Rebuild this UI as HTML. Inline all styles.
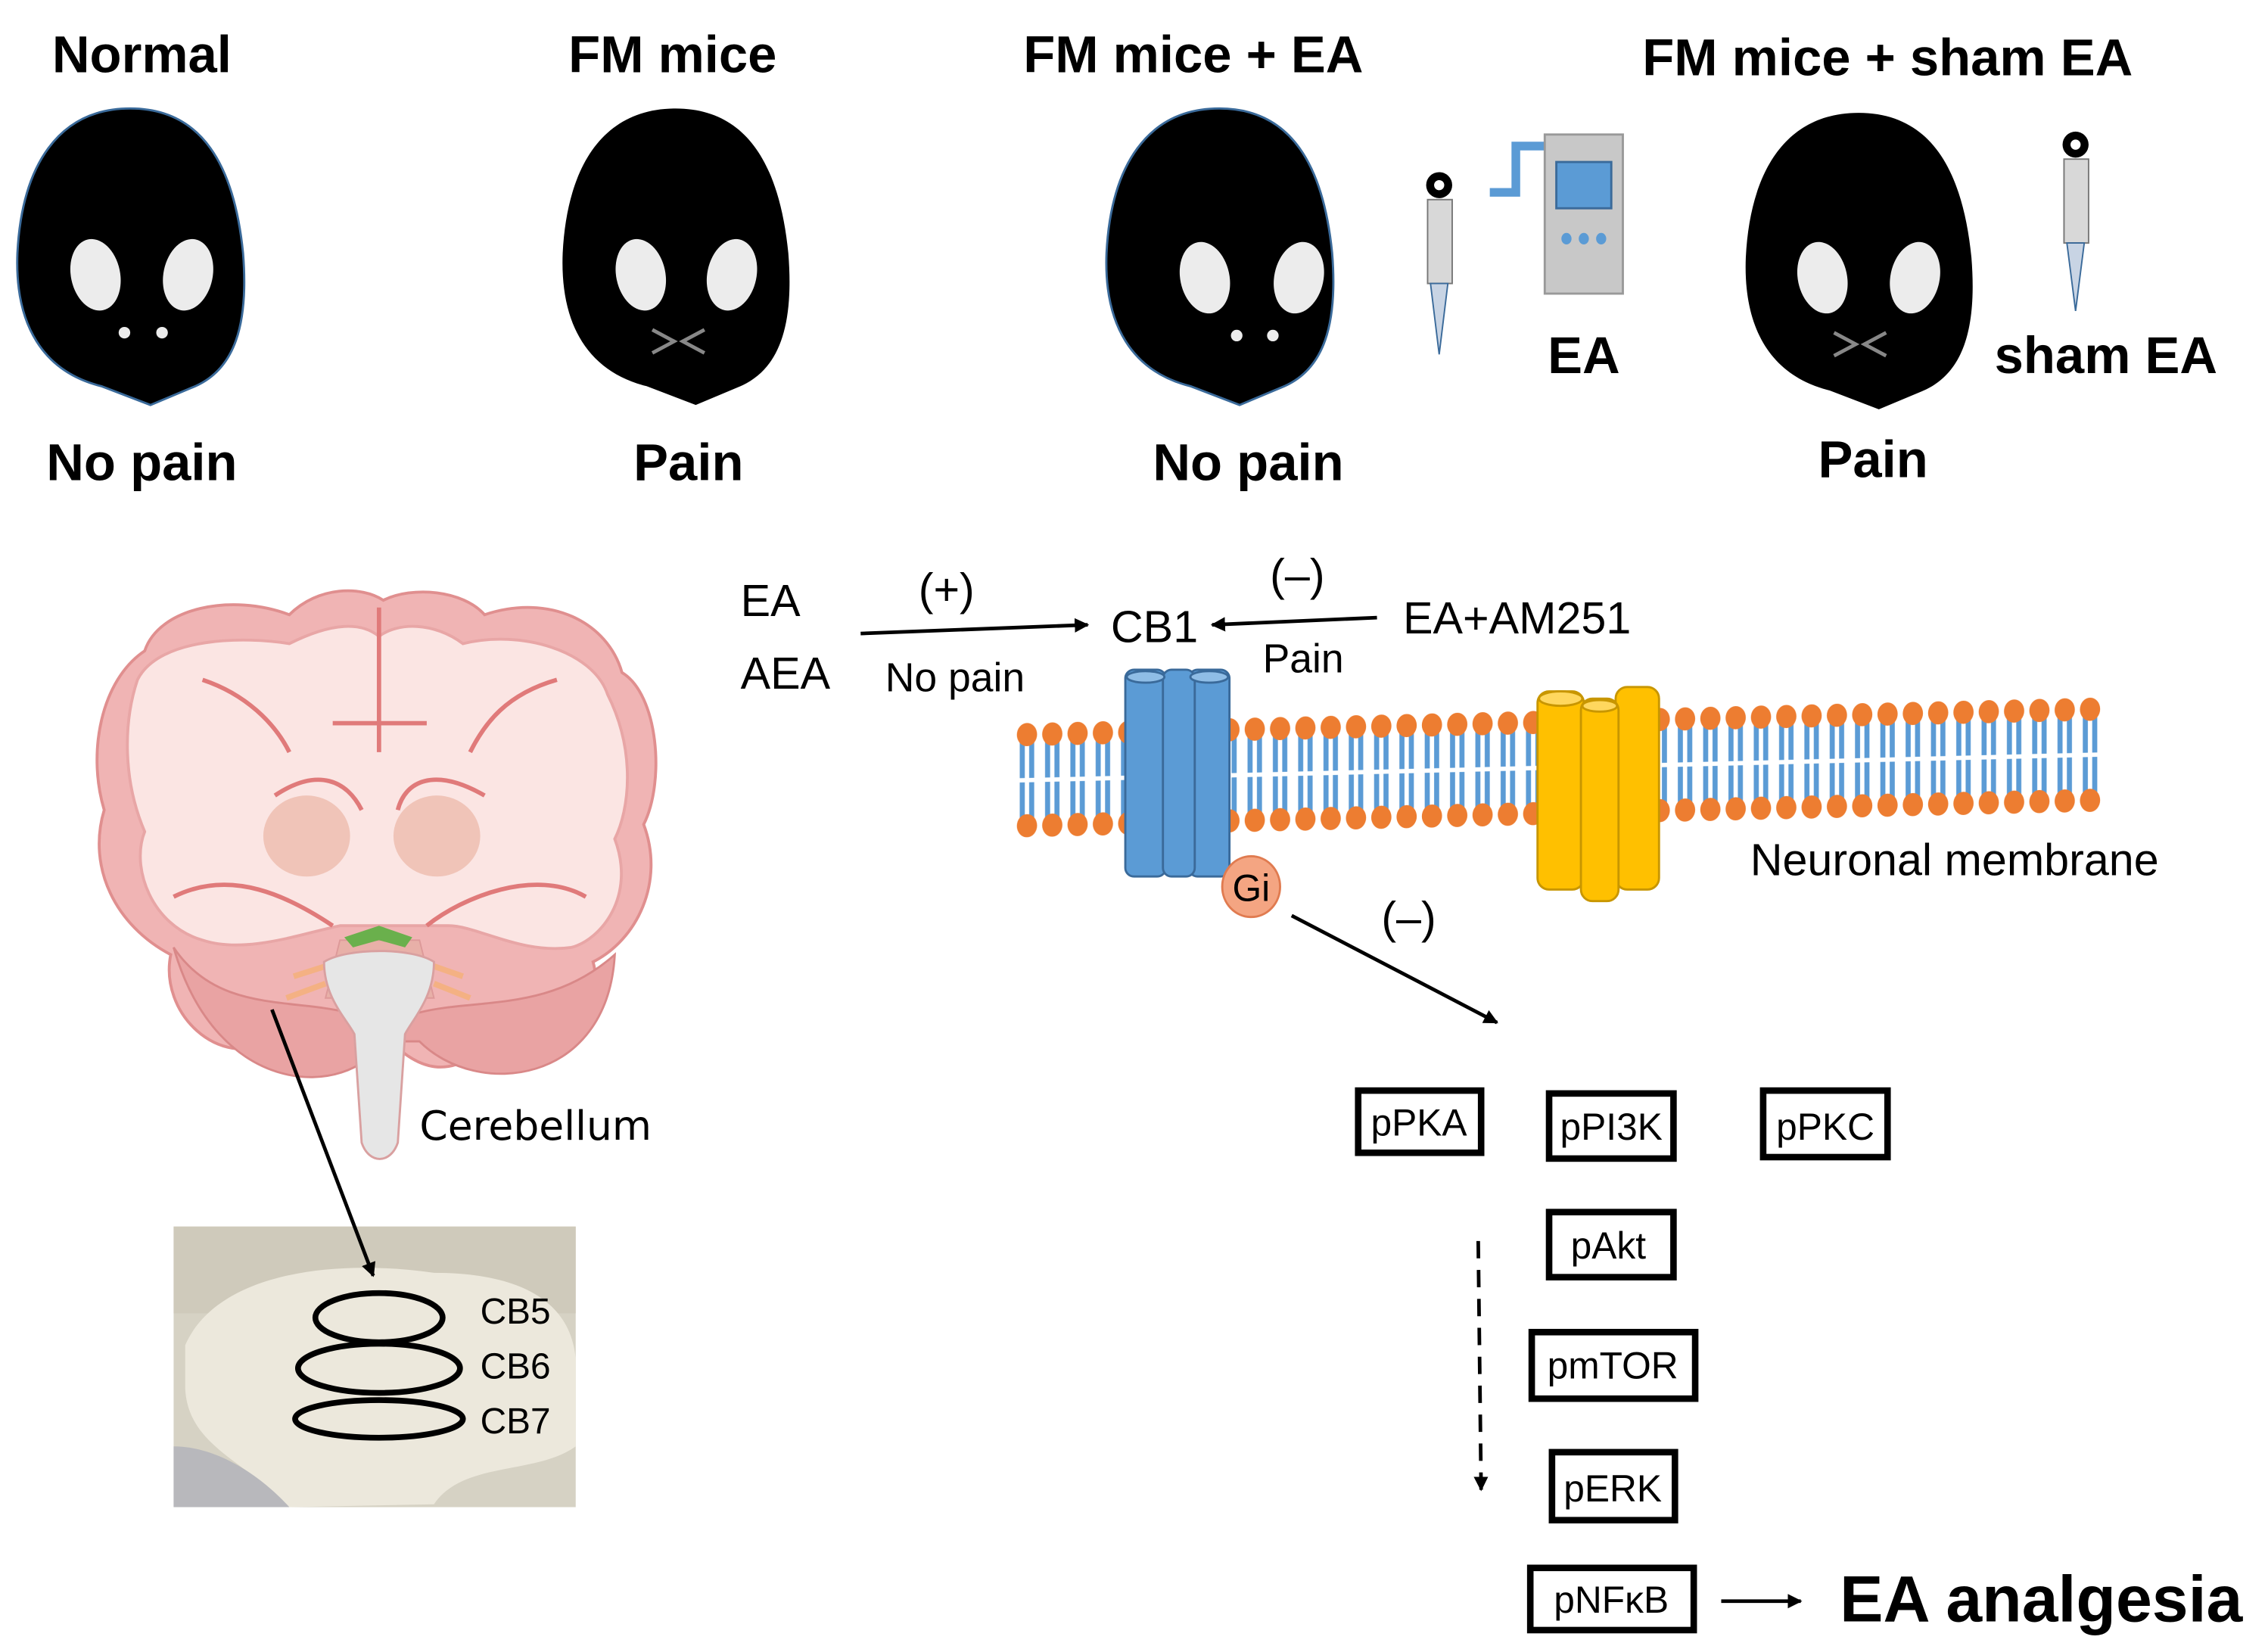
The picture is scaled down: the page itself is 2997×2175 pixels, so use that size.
<!DOCTYPE html>
<html><head><meta charset="utf-8"><style>
html,body{margin:0;padding:0;background:#fff}
svg{display:block}
text{font-family:"Liberation Sans",sans-serif}
</style></head><body>
<svg width="2997" height="2175" viewBox="0 0 1568 1138" xmlns="http://www.w3.org/2000/svg">
<defs>
<marker id="ah" markerWidth="10" markerHeight="10" refX="9" refY="5" orient="auto" markerUnits="userSpaceOnUse"><path d="M0,0 L10,5 L0,10Z" fill="#000"/></marker>
<path id="head" d="M0,0 C50,0 72,40 78,100 C82,150 72,180 45,192 L14,205 L-20,192 C-60,182 -80,150 -78,100 C-75,40 -50,0 0,0Z"/>
<pattern id="ph" patternUnits="userSpaceOnUse" x="701.25" y="500" width="17.5" height="16"><ellipse cx="8.75" cy="8" rx="7" ry="8" fill="#ed7d31"/></pattern>
<pattern id="pb" patternUnits="userSpaceOnUse" x="701.25" y="563" width="17.5" height="16"><ellipse cx="8.75" cy="8" rx="7" ry="8" fill="#ed7d31"/></pattern>
<pattern id="pt" patternUnits="userSpaceOnUse" x="701.25" y="508" width="17.5" height="63"><path d="M5.5,4 L5.5,30 M12,4 L12,30 M5.5,33 L5.5,59 M12,33 L12,59" stroke="#5b9bd5" stroke-width="3.5" fill="none"/></pattern>
</defs>
<g font-weight="bold" font-size="36" text-anchor="middle">
<text x="98" y="50">Normal</text>
<text x="465" y="50">FM mice</text>
<text x="825" y="50">FM mice + EA</text>
<text x="1305" y="52">FM mice + sham EA</text>
<text x="98" y="332">No pain</text>
<text x="476" y="332">Pain</text>
<text x="863" y="332">No pain</text>
<text x="1295" y="330">Pain</text>
<text x="1095" y="258">EA</text>
<text x="1456" y="258">sham EA</text>
</g>
<g>
<use href="#head" x="90" y="75" fill="#000" stroke="#3a6a9a" stroke-width="1.5"/>
<use href="#head" x="467" y="75" fill="#000"/>
<use href="#head" x="843" y="75" fill="#000" stroke="#3a6a9a" stroke-width="1.5"/>
<use href="#head" x="1285" y="78" fill="#000"/>
</g>
<g fill="#ececec">
<ellipse cx="66" cy="190" rx="17" ry="25" transform="rotate(-12 66 190)"/><ellipse cx="130" cy="190" rx="17" ry="25" transform="rotate(12 130 190)"/>
<ellipse cx="443" cy="190" rx="17" ry="25" transform="rotate(-12 443 190)"/><ellipse cx="506" cy="190" rx="17" ry="25" transform="rotate(12 506 190)"/>
<ellipse cx="833" cy="192" rx="17" ry="25" transform="rotate(-12 833 192)"/><ellipse cx="898" cy="192" rx="17" ry="25" transform="rotate(12 898 192)"/>
<ellipse cx="1260" cy="192" rx="17" ry="25" transform="rotate(-12 1260 192)"/><ellipse cx="1324" cy="192" rx="17" ry="25" transform="rotate(12 1324 192)"/>
<circle cx="86" cy="230" r="4"/><circle cx="112" cy="230" r="4"/>
<circle cx="855" cy="232" r="4"/><circle cx="880" cy="232" r="4"/>
</g>
<g stroke="#888" stroke-width="2.5" fill="none">
<path d="M451,228 L466,236 L451,244 M487,228 L472,236 L487,244"/>
<path d="M1268,230 L1283,238 L1268,246 M1304,230 L1289,238 L1304,246"/>
</g>
<g>
<circle cx="995" cy="128" r="9" fill="#000"/><circle cx="995" cy="128" r="3.5" fill="#fff"/>
<rect x="987" y="138" width="17" height="58" fill="#d8d8d8" stroke="#777" stroke-width="1"/>
<path d="M989,196 L1001,196 L995,245Z" fill="#c8d4e4" stroke="#3a6a9a" stroke-width="1"/>
<circle cx="1435" cy="100" r="9" fill="#000"/><circle cx="1435" cy="100" r="3.5" fill="#fff"/>
<rect x="1427" y="110" width="17" height="58" fill="#d8d8d8" stroke="#777" stroke-width="1"/>
<path d="M1429,168 L1441,168 L1435,215Z" fill="#c8d4e4" stroke="#3a6a9a" stroke-width="1"/>
<path d="M1030,133 L1048,133 L1048,101 L1068,101" stroke="#5b9bd5" stroke-width="6" fill="none"/>
<rect x="1068" y="93" width="54" height="110" fill="#c8c8c8" stroke="#999" stroke-width="1.5"/>
<rect x="1076" y="112" width="38" height="32" fill="#5b9bd5" stroke="#3a6a9a" stroke-width="1.5"/>
<ellipse cx="1083" cy="165" rx="3.5" ry="4" fill="#5b9bd5"/><ellipse cx="1095" cy="165" rx="3.5" ry="4" fill="#5b9bd5"/><ellipse cx="1107" cy="165" rx="3.5" ry="4" fill="#5b9bd5"/>
</g>
<g font-size="31">
<text x="512" y="426">EA</text>
<text x="512" y="476">AEA</text>
<text x="635" y="418">(+)</text>
<text x="612" y="478" font-size="28">No pain</text>
<text x="768" y="444">CB1</text>
<text x="878" y="408">(–)</text>
<text x="873" y="465" font-size="28">Pain</text>
<text x="970" y="438">EA+AM251</text>
<text x="1210" y="605">Neuronal membrane</text>
<text x="955" y="645">(–)</text>
</g>
<line x1="595" y1="438" x2="752" y2="432" stroke="#000" stroke-width="2.5" marker-end="url(#ah)"/>
<line x1="952" y1="427" x2="838" y2="432" stroke="#000" stroke-width="2.5" marker-end="url(#ah)"/>
<line x1="893" y1="633" x2="1035" y2="707" stroke="#000" stroke-width="2.5" marker-end="url(#ah)"/>
<g transform="matrix(1,-0.02384,0,1,0,16.81)">
<rect x="701" y="508" width="753" height="63" fill="url(#pt)"/>
<rect x="701" y="500" width="753" height="16" fill="url(#ph)"/>
<rect x="701" y="563" width="753" height="16" fill="url(#pb)"/>
</g>
<g stroke="#3a6a9a" stroke-width="1.5" fill="#5b9bd5">
<rect x="778" y="463" width="28" height="143" rx="6"/>
<rect x="822" y="463" width="28" height="143" rx="6"/>
<rect x="804" y="463" width="22" height="143" rx="6"/>
<ellipse cx="792" cy="468" rx="13" ry="4" fill="#8fbde6"/><ellipse cx="836" cy="468" rx="13" ry="4" fill="#8fbde6"/>
</g>
<ellipse cx="865" cy="613" rx="20" ry="21" fill="#f4a582" stroke="#e07b50" stroke-width="1.5"/>
<text x="865" y="623" font-size="26" text-anchor="middle">Gi</text>
<g stroke="#c89600" stroke-width="1.5" fill="#ffc000">
<rect x="1063" y="478" width="32" height="137" rx="8"/>
<rect x="1117" y="475" width="30" height="140" rx="8"/>
<rect x="1093" y="483" width="26" height="140" rx="8"/>
<ellipse cx="1079" cy="483" rx="15" ry="5" fill="#ffd75e"/><ellipse cx="1106" cy="488" rx="12" ry="4" fill="#ffd75e"/>
</g>
<g fill="none" stroke="#000" stroke-width="4.5">
<rect x="939" y="754" width="85" height="43"/>
<rect x="1071" y="756" width="86" height="45"/>
<rect x="1219" y="754" width="86" height="46"/>
<rect x="1071" y="838" width="86" height="45"/>
<rect x="1059" y="921" width="113" height="46"/>
<rect x="1073" y="1004" width="85" height="47"/>
<rect x="1058" y="1084" width="113" height="43"/>
</g>
<g font-size="26" text-anchor="middle">
<text x="981" y="785">pPKA</text>
<text x="1114" y="788">pPI3K</text>
<text x="1262" y="788">pPKC</text>
<text x="1112" y="870">pAkt</text>
<text x="1115" y="953">pmTOR</text>
<text x="1115" y="1038">pERK</text>
<text x="1114" y="1115">pNFκB</text>
</g>
<line x1="1022" y1="858" x2="1024" y2="1030" stroke="#000" stroke-width="2.5" stroke-dasharray="12,8" marker-end="url(#ah)"/>
<line x1="1190" y1="1107" x2="1245" y2="1107" stroke="#000" stroke-width="2.5" marker-end="url(#ah)"/>
<text x="1272" y="1121" font-size="45" font-weight="bold">EA analgesia</text>
<g>
<path d="M190,720 C150,740 110,700 118,660 C80,640 60,600 72,560 C60,520 70,470 100,450 C110,420 160,410 200,425 C220,405 250,405 265,415 C285,405 320,408 335,425 C380,410 420,430 430,465 C455,480 460,540 445,570 C460,610 440,650 410,665 C420,700 380,740 335,725 C310,745 290,740 270,720 L210,720 Z" fill="#f0b4b4" stroke="#e08f8f" stroke-width="2"/>
<path d="M120,655 C150,760 240,760 265,720 L290,720 C330,760 420,750 425,660 C380,700 330,690 290,700 L240,700 C200,690 150,700 120,655Z" fill="#e9a3a3" stroke="#d98888" stroke-width="1.5"/>
<path d="M95,470 C110,440 170,440 200,445 C230,430 250,430 262,440 C275,430 300,430 320,445 C360,435 410,450 420,480 C440,520 435,560 425,580 C440,620 415,650 395,655 C360,660 330,640 310,640 L235,640 C210,645 170,660 140,650 C105,640 90,600 100,575 C85,540 85,500 95,470Z" fill="#fbe5e3" stroke="#e8a6a6" stroke-width="2"/>
<ellipse cx="212" cy="578" rx="30" ry="28" fill="#f0c4b8"/>
<ellipse cx="302" cy="578" rx="30" ry="28" fill="#f0c4b8"/>
<path d="M262,420 L262,520 M230,500 L295,500 M190,550 C220,530 240,540 250,560 M335,550 C300,530 280,540 275,560 M120,620 C160,600 200,620 230,640 M405,620 C370,600 320,620 295,640 M140,470 C170,480 190,500 200,520 M385,470 C350,480 335,500 325,520" stroke="#e07a7a" stroke-width="3" fill="none"/>
<path d="M235,650 L290,650 L300,690 L225,690Z" fill="#e8b0a8" stroke="#d99" stroke-width="1"/>
<path d="M238,648 L262,640 L285,648 L280,655 L262,650 L244,655Z" fill="#6ab04c"/>
<path d="M203,675 L225,668 M198,690 L225,680 M300,668 L320,675 M300,680 L325,690" stroke="#f4b183" stroke-width="4"/>
<path d="M224,665 C240,655 285,655 300,665 C300,690 285,705 280,715 L275,790 C270,805 255,805 250,790 L245,715 C240,705 224,690 224,665Z" fill="#e6e6e6" stroke="#d9a0a0" stroke-width="1.5"/>
</g>
<text x="290" y="788" font-size="28" style="font-family:'DejaVu Sans',sans-serif">Cerebellum</text>
<rect x="120" y="848" width="278" height="194" fill="#d6d2c4"/>
<rect x="120" y="848" width="278" height="60" fill="#cfcabb"/>
<path d="M128,930 C150,880 230,870 300,880 C360,880 395,900 398,940 L398,1000 C370,1020 320,1010 300,1040 L200,1042 C170,1010 130,1000 128,960Z" fill="#ece8dc"/>
<path d="M120,1000 L120,1042 L200,1042 C180,1020 150,1000 120,1000Z" fill="#b8b8bc"/>
<g fill="none" stroke="#000" stroke-width="4">
<ellipse cx="262" cy="911" rx="44" ry="17"/>
<ellipse cx="262" cy="946" rx="56" ry="17"/>
<ellipse cx="262" cy="981" rx="58" ry="13"/>
</g>
<g font-size="25" style="font-family:'DejaVu Sans',sans-serif">
<text x="332" y="915">CB5</text><text x="332" y="953">CB6</text><text x="332" y="991">CB7</text>
</g>
<line x1="188" y1="698" x2="258" y2="882" stroke="#000" stroke-width="2.5" marker-end="url(#ah)"/>
</svg>
</body></html>
